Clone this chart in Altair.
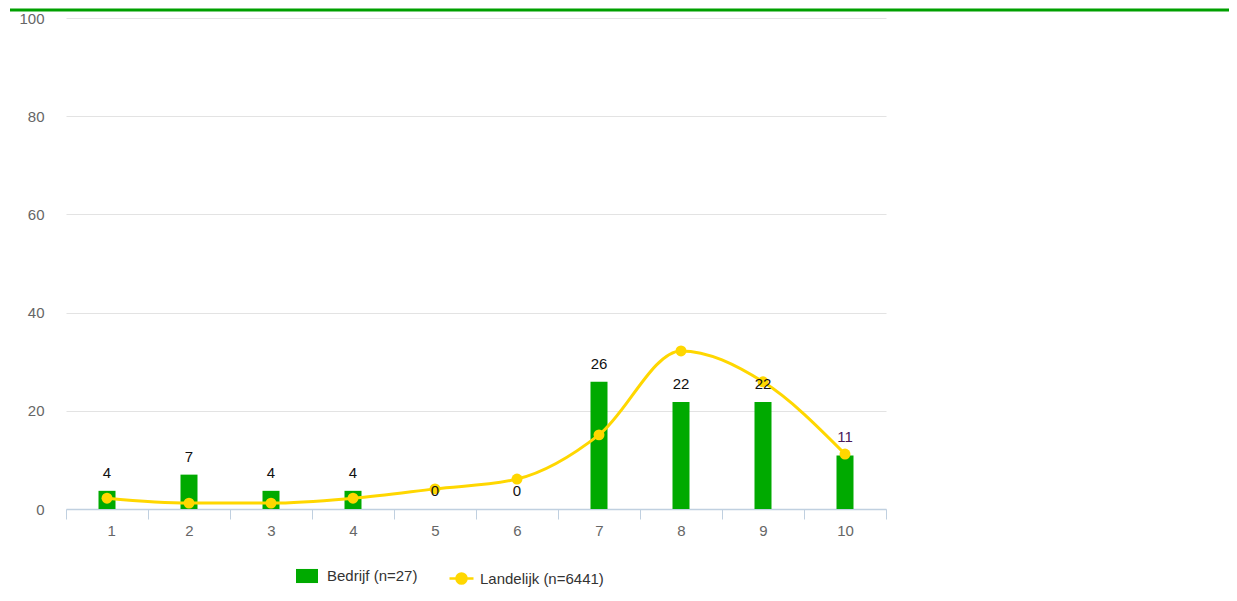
import altair as alt
import pandas as pd

categories = [1, 2, 3, 4, 5, 6, 7, 8, 9, 10]
bedrijf = [3.7, 7.0, 3.7, 3.7, 0.0, 0.0, 25.9, 21.8, 21.8, 10.9]
bedrijf_labels = ["4", "7", "4", "4", "0", "0", "26", "22", "22", "11"]
landelijk = [2.2, 1.2, 1.2, 2.2, 4.1, 6.1, 15.1, 32.2, 25.9, 11.2]
series_names = ["Bedrijf (n=27)", "Landelijk (n=6441)"]
y_ticks = [0, 20, 40, 60, 80, 100]
x_boundaries = [0.5, 1.5, 2.5, 3.5, 4.5, 5.5, 6.5, 7.5, 8.5, 9.5, 10.5]

GREEN = "#00aa00"
YELLOW = "#ffd700"
FONT = "Liberation Sans"

df = pd.DataFrame({
    "cat": categories,
    "bedrijf": bedrijf,
    "label": bedrijf_labels,
    "landelijk": landelijk,
    "s_bar": series_names[0],
    "s_line": series_names[1],
})

x_scale = alt.Scale(domain=[0.5, 10.5], nice=False, zero=False, padding=0)
x_axis = alt.Axis(
    values=x_boundaries,
    labelExpr="datum.value < 10 ? format(datum.value + 0.5, 'd') : ''",
    labelOffset=41,
    title=None,
    grid=False,
    tickSize=10,
    tickColor="#c0d0e0",
    domainColor="#c0d0e0",
    domainWidth=1.5,
    labelColor="#666666",
    labelFontSize=15,
    labelPadding=4,
)
y_scale = alt.Scale(domain=[0, 100], nice=False)
y_axis = alt.Axis(
    values=y_ticks,
    title=None,
    ticks=False,
    domain=False,
    grid=True,
    gridColor="#e3e3e3",
    labelColor="#666666",
    labelFontSize=15,
    labelPadding=22,
)

base = alt.Chart(df)

bars = base.mark_bar(size=17).encode(
    x=alt.X("cat:Q", scale=x_scale, axis=x_axis),
    y=alt.Y("bedrijf:Q", scale=y_scale, axis=y_axis),
    fill=alt.Fill(
        "s_bar:N",
        scale=alt.Scale(domain=[series_names[0]], range=[GREEN]),
        legend=alt.Legend(
            title=None,
            orient="none",
            legendX=230,
            legendY=547,
            symbolType="M-1,-0.64H1V0.64H-1Z",
            symbolSize=484,
            symbolStrokeWidth=0,
            labelFontSize=15,
            labelOffset=9,
            labelColor="#333333",
            labelFont=FONT,
        ),
    ),
)

line = base.mark_line(interpolate="monotone", strokeWidth=3).encode(
    x=alt.X("cat:Q", scale=x_scale),
    y=alt.Y("landelijk:Q", scale=y_scale),
    stroke=alt.Stroke(
        "s_line:N",
        scale=alt.Scale(domain=[series_names[1]], range=[YELLOW]),
        legend=alt.Legend(
            title=None,
            orient="none",
            legendX=382,
            legendY=547,
            symbolType="M-1,0L-0.42,0M0.42,0L1,0M-0.42,0A0.42,0.42 0 1,1 0.42,0A0.42,0.42 0 1,1 -0.42,0Z",
            symbolSize=576,
            symbolStrokeWidth=2.5,
            symbolFillColor=YELLOW,
            labelFontSize=15,
            labelOffset=5,
            labelColor="#333333",
            labelFont=FONT,
        ),
    ),
)

points = base.mark_circle(size=120, opacity=1, color=YELLOW).encode(
    x=alt.X("cat:Q", scale=x_scale),
    y=alt.Y("landelijk:Q", scale=y_scale),
)

labels = base.mark_text(dy=-18, baseline="middle", fontSize=15, font=FONT).encode(
    x=alt.X("cat:Q", scale=x_scale),
    y=alt.Y("bedrijf:Q", scale=y_scale),
    text="label:N",
    color=alt.condition("datum.cat == 10", alt.value("#4a1a5a"), alt.value("#111111")),
)

top_rule = alt.Chart(alt.Data(values=[{"a": 1}])).mark_rule(color="#00a000", strokeWidth=3).encode(
    x=alt.value(-56),
    x2=alt.value(1163),
    y=alt.value(-8),
)

chart = (
    alt.layer(bars, line, points, labels, top_rule)
    .resolve_scale(fill="independent", stroke="independent")
    .properties(
        width=820,
        height=491,
        padding={"left": 58, "top": 10, "right": 343, "bottom": 84},
        autosize=alt.AutoSizeParams(type="none"),
    )
    .configure(font=FONT)
    .configure_view(stroke=None)
)

chart.save("out.html", embed_options={"renderer": "svg", "actions": False})
